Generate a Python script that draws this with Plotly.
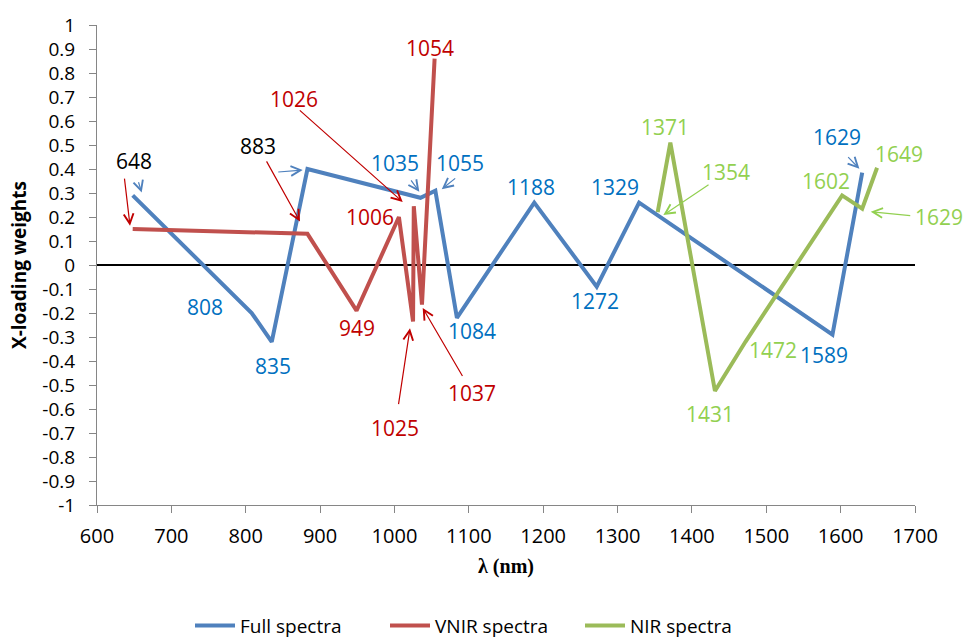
import plotly.graph_objects as go

# Wavelengths (nm) and X-loading weights for each spectral range
full_nm = [648, 808, 835, 883, 1035, 1055, 1084, 1188, 1272, 1329, 1589, 1629]
full_w = [0.29, -0.20, -0.32, 0.40, 0.28, 0.31, -0.22, 0.26, -0.09, 0.26, -0.29, 0.385]

vnir_nm = [648, 883, 949, 1006, 1025, 1026, 1037, 1054]
vnir_w = [0.15, 0.13, -0.19, 0.20, -0.235, 0.245, -0.165, 0.86]

nir_nm = [1354, 1371, 1431, 1472, 1602, 1629, 1649]
nir_w = [0.22, 0.51, -0.525, -0.32, 0.29, 0.235, 0.405]

series_names = ["Full spectra", "VNIR spectra", "NIR spectra"]
line_colors = ["#4F81BD", "#C0504D", "#9BBB59"]

y_ticks = [round(-1 + 0.1 * i, 1) for i in range(21)]
y_tick_text = ["0" if v == 0 else ("%g" % v) for v in y_ticks]
x_ticks = list(range(600, 1701, 100))

BLUE_TXT = "#0070C0"
RED_TXT = "#C00000"
GREEN_TXT = "#92D050"
BLACK_TXT = "#000000"

# Wavelength labels: (text, x, y, colour, horizontal anchor)
labels = [
    ("648", 650, 0.433, BLACK_TXT, "center"),
    ("883", 816, 0.495, BLACK_TXT, "center"),
    ("808", 745, -0.176, BLUE_TXT, "center"),
    ("835", 836, -0.420, BLUE_TXT, "center"),
    ("1026", 865, 0.693, RED_TXT, "center"),
    ("1035", 1001, 0.424, BLUE_TXT, "center"),
    ("1055", 1088, 0.424, BLUE_TXT, "center"),
    ("1006", 967, 0.201, RED_TXT, "center"),
    ("949", 950, -0.262, RED_TXT, "center"),
    ("1025", 1001, -0.678, RED_TXT, "center"),
    ("1037", 1104, -0.533, RED_TXT, "center"),
    ("1054", 1048, 0.905, RED_TXT, "center"),
    ("1084", 1104, -0.275, BLUE_TXT, "center"),
    ("1188", 1184, 0.325, BLUE_TXT, "center"),
    ("1272", 1270, -0.150, BLUE_TXT, "center"),
    ("1329", 1296, 0.325, BLUE_TXT, "center"),
    ("1371", 1364, 0.573, GREEN_TXT, "center"),
    ("1354", 1446, 0.387, GREEN_TXT, "center"),
    ("1629", 1595, 0.533, BLUE_TXT, "center"),
    ("1649", 1678, 0.461, GREEN_TXT, "center"),
    ("1602", 1580, 0.351, GREEN_TXT, "center"),
    ("1629", 1697, 0.201, GREEN_TXT, "left"),
    ("1472", 1509, -0.353, GREEN_TXT, "center"),
    ("1589", 1578, -0.374, BLUE_TXT, "center"),
    ("1431", 1424, -0.622, GREEN_TXT, "center"),
]

# Pointer arrows: (tail x, tail y, tip x, tip y, colour)
pointers = [
    (636.7, 0.366, 644.4, 0.164, RED_TXT),
    (655.2, 0.351, 660.1, 0.302, "#4F81BD"),
    (826.9, 0.438, 873.0, 0.181, RED_TXT),
    (841.7, 0.387, 876.6, 0.396, "#4F81BD"),
    (870.7, 0.650, 1011.1, 0.263, RED_TXT),
    (1020.9, 0.359, 1033.4, 0.305, "#4F81BD"),
    (1083.7, 0.366, 1063.6, 0.316, "#4F81BD"),
    (1005.2, -0.586, 1020.9, -0.264, RED_TXT),
    (1092.6, -0.469, 1038.0, -0.179, RED_TXT),
    (1424.4, 0.339, 1361.6, 0.208, GREEN_TXT),
    (1608.2, 0.456, 1625.2, 0.401, "#4F81BD"),
    (1695.6, 0.205, 1640.5, 0.222, GREEN_TXT),
]

fig = go.Figure()
for name, xs, ys, col in zip(series_names, [full_nm, vnir_nm, nir_nm],
                             [full_w, vnir_w, nir_w], line_colors):
    fig.add_trace(go.Scatter(x=xs, y=ys, mode="lines", name=name,
                             line=dict(color=col, width=4)))

annotations = []
for text, x, y, col, anchor in labels:
    annotations.append(dict(x=x, y=y, xref="x", yref="y", text=text,
                            showarrow=False, xanchor=anchor, yanchor="middle",
                            font=dict(family="Open Sans", size=21, color=col)))
for tx, ty, hx, hy, col in pointers:
    annotations.append(dict(x=hx, y=hy, xref="x", yref="y", ax=tx, ay=ty,
                            axref="x", ayref="y", text="", showarrow=True,
                            arrowhead=5, arrowsize=1.6, arrowwidth=1.2,
                            arrowcolor=col, standoff=0, startstandoff=0))

fig.update_layout(
    width=965, height=641,
    margin=dict(l=97, r=50, t=22, b=136),
    paper_bgcolor="white", plot_bgcolor="white",
    font=dict(family="Open Sans", color="#000000"),
    showlegend=True,
    legend=dict(orientation="h", xref="container", yref="container",
                x=0.5, xanchor="center", y=0.024, yanchor="middle",
                font=dict(family="Open Sans", size=19), itemwidth=40,
                entrywidth=140, entrywidthmode="pixels"),
    annotations=annotations,
)
fig.update_xaxes(range=[600, 1700], tickvals=x_ticks, ticks="outside", ticklen=7,
                 tickcolor="#868686", showline=True, linecolor="#868686", linewidth=1,
                 showgrid=False, zeroline=False, ticklabelstandoff=6,
                 tickfont=dict(family="Open Sans", size=20),
                 title=dict(text="<b>λ (nm)</b>",
                            font=dict(family="Liberation Serif", size=20), standoff=10))
fig.update_yaxes(range=[-1, 1], tickvals=y_ticks, ticktext=y_tick_text, ticks="outside",
                 ticklen=7, tickcolor="#868686", showline=True, linecolor="#868686",
                 linewidth=1, showgrid=False, zeroline=True, zerolinecolor="#000000",
                 zerolinewidth=1.5, ticklabelstandoff=10,
                 tickfont=dict(family="Open Sans", size=19),
                 title=dict(text="<b>X-loading weights</b>",
                            font=dict(family="Open Sans", size=19), standoff=10))

fig.write_html("out.html")
